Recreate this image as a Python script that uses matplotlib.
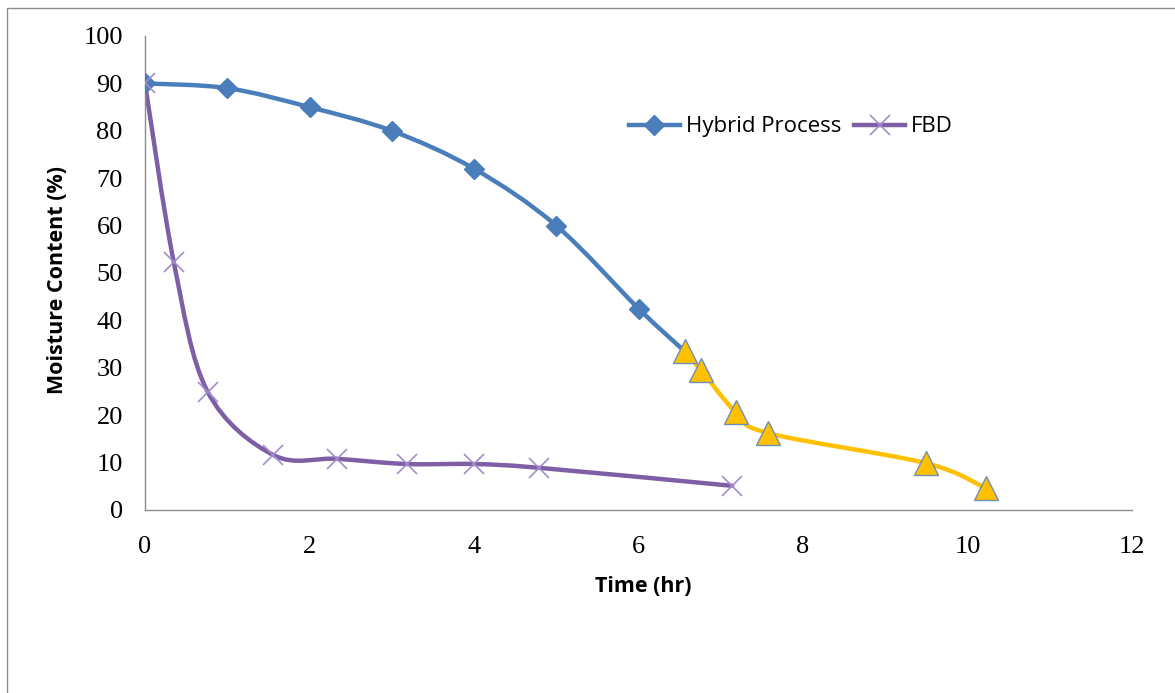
import numpy as np
import matplotlib

matplotlib.use("Agg")
import matplotlib.pyplot as plt
from matplotlib.path import Path
from matplotlib.patches import PathPatch, Rectangle
from matplotlib.lines import Line2D


# values
hybrid_time = [0, 1, 2, 3, 4, 5, 6, 6.56]
hybrid_moisture = [90, 89, 85, 80, 72, 60, 42.5, 33.5]

tail_time = [6.56, 6.76, 7.18, 7.58, 9.49, 10.22]
tail_moisture = [33.5, 29.5, 20.7, 16.2, 9.9, 4.6]

fbd_time = [0, 0.35, 0.76, 1.56, 2.34, 3.18, 4.0, 4.79, 7.14]
fbd_moisture = [90, 52.3, 25.0, 11.6, 10.8, 9.7, 9.7, 8.9, 5.1]

x_ticks = [0, 2, 4, 6, 8, 10, 12]
y_ticks = [0, 10, 20, 30, 40, 50, 60, 70, 80, 90, 100]

BLUE = "#4A7EBB"
PURPLE = "#7E5FA6"
PURPLE_MARK = "#A48DCB"
YELLOW = "#FFC000"


def smooth_path(xs, ys):
    # Excel-style smoothed line: cubic Bezier through the points
    pts = np.column_stack([xs, ys]).astype(float)
    n = len(pts)
    verts = [pts[0]]
    codes = [Path.MOVETO]
    for i in range(n - 1):
        p0 = pts[i - 1] if i > 0 else pts[i]
        p1 = pts[i]
        p2 = pts[i + 1]
        p3 = pts[i + 2] if i + 2 < n else pts[i + 1]
        c1 = p1 + (p2 - p0) / 6
        c2 = p2 - (p3 - p1) / 6
        verts += [c1, c2, p2]
        codes += [Path.CURVE4] * 3
    return Path(verts, codes)


def add_curve(ax, xs, ys, color):
    patch = PathPatch(smooth_path(xs, ys), facecolor="none", edgecolor=color,
                      linewidth=3.2, capstyle="round", joinstyle="round", zorder=2)
    ax.add_patch(patch)


fig = plt.figure(figsize=(11.75, 6.93), dpi=100)
fig.patches.append(Rectangle((7 / 1175, -0.05), 1.1, 1 - 8 / 693 + 0.05,
                             transform=fig.transFigure, fill=False,
                             edgecolor="#8C8C8C", linewidth=1.0))

ax = fig.add_axes([145 / 1175, 1 - 510 / 693, (1132 - 145) / 1175, (510 - 36) / 693])

add_curve(ax, hybrid_time, hybrid_moisture, BLUE)
add_curve(ax, fbd_time, fbd_moisture, PURPLE)
add_curve(ax, tail_time, tail_moisture, YELLOW)

ax.plot(hybrid_time[:-1], hybrid_moisture[:-1], linestyle="none", marker="D",
        markersize=10.5, color=BLUE, zorder=3)
ax.plot(fbd_time, fbd_moisture, linestyle="none", marker="x", markersize=15,
        markeredgewidth=1.2, color=PURPLE_MARK, zorder=3)
ax.plot(tail_time, tail_moisture, linestyle="none", marker="^", markersize=17,
        markerfacecolor=YELLOW, markeredgecolor="#6E8FB8", markeredgewidth=1.0, zorder=4)

ax.set_xlim(0, 12 * (1132 - 145) / (1138 - 147))
ax.set_ylim(0, 100)
ax.set_xticks(x_ticks)
ax.set_yticks(y_ticks)
ax.tick_params(length=0, labelsize=19)
for lab in ax.get_xticklabels() + ax.get_yticklabels():
    lab.set_family("Liberation Serif")
ax.tick_params(axis="x", pad=19)
ax.tick_params(axis="y", pad=16)

for side in ("top", "right"):
    ax.spines[side].set_visible(False)
for side in ("left", "bottom"):
    ax.spines[side].set_color("#8C8C8C")
    ax.spines[side].set_linewidth(1.0)

ax.set_xlabel("Time (hr)", fontsize=15.5, fontweight="bold", family="Open Sans")
ax.set_ylabel("Moisture Content (%)", fontsize=15.5, fontweight="bold", family="Open Sans")
ax.xaxis.set_label_coords((643 - 145) / (1132 - 145), -(576 - 510) / (510 - 36))
ax.yaxis.set_label_coords(-(145 - 68) / (1132 - 145), (510 - 280) / (510 - 36))

handles = [
    Line2D([], [], color=BLUE, linewidth=3.2, marker="D", markersize=10.5),
    Line2D([], [], color=PURPLE, linewidth=3.2, marker="x", markersize=15,
           markeredgewidth=1.2, markeredgecolor=PURPLE_MARK),
]
ax.legend(handles, ["Hybrid Process", "FBD"], loc="center left", ncol=2, frameon=False,
          bbox_to_anchor=((620 - 145) / (1132 - 145), (510 - 127) / (510 - 36)),
          prop={"family": "Open Sans", "size": 16}, handlelength=2.3,
          handletextpad=0.25, columnspacing=0.6, borderaxespad=0)

fig.savefig("out.png", dpi=100)
